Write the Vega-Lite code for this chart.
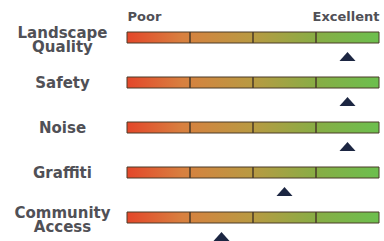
{
  "$schema": "https://vega.github.io/schema/vega-lite/v6.json",
  "autosize": "none",
  "width": 252,
  "height": 225,
  "padding": {"left": 127, "top": 15, "right": 5, "bottom": 1},
  "background": "white",
  "config": {"view": {"stroke": null}},
  "data": {"values": [
    {"cat": "Landscape|Quality", "score": 3.5},
    {"cat": "Safety", "score": 3.5},
    {"cat": "Noise", "score": 3.5},
    {"cat": "Graffiti", "score": 2.5},
    {"cat": "Community|Access", "score": 1.5}
  ]},
  "encoding": {
    "y": {
      "field": "cat", "type": "nominal", "sort": null,
      "scale": {"paddingInner": 0, "paddingOuter": 0},
      "axis": {
        "title": null, "domain": false, "ticks": false,
        "labelPadding": 65, "labelAlign": "center", "labelBaseline": "middle",
        "labelExpr": "split(datum.label, '|')",
        "labelLineHeight": 14,
        "labelOffset": {"expr": "indexof(datum.label, '|') >= 0 ? -5 : 0"},
        "labelFont": "DejaVu Sans", "labelFontSize": 15, "labelFontWeight": "bold",
        "labelColor": "#505056"
      }
    }
  },
  "layer": [
    {
      "mark": {
        "type": "bar", "height": 11, "stroke": "#4a3a28", "strokeWidth": 1,
        "fill": {"gradient": "linear", "x1": 0, "x2": 1, "y1": 0, "y2": 0, "stops": [
          {"offset": 0, "color": "#e4472a"},
          {"offset": 0.22, "color": "#d8803f"},
          {"offset": 0.5, "color": "#b89a42"},
          {"offset": 0.75, "color": "#88ad45"},
          {"offset": 1, "color": "#6cbf4e"}
        ]}
      },
      "encoding": {
        "x": {"datum": 0, "type": "quantitative",
          "scale": {"domain": [0, 4], "nice": false, "zero": false},
          "axis": {
            "orient": "top", "values": [0, 4], "title": null, "domain": false, "ticks": false, "grid": false,
            "offset": -8, "labelPadding": 0,
            "labelExpr": "datum.value == 0 ? 'Poor' : 'Excellent'",
            "labelAlign": {"expr": "datum.value == 0 ? 'left' : 'right'"},
            "labelFont": "DejaVu Sans", "labelFontSize": 13, "labelFontWeight": "bold",
            "labelColor": "#505056"
          }
        },
        "x2": {"datum": 4}
      }
    },
    {"mark": {"type": "tick", "size": 11, "thickness": 1.5, "color": "#4a3a28", "opacity": 1},
     "encoding": {"x": {"datum": 1, "type": "quantitative"}}},
    {"mark": {"type": "tick", "size": 11, "thickness": 1.5, "color": "#4a3a28", "opacity": 1},
     "encoding": {"x": {"datum": 2, "type": "quantitative"}}},
    {"mark": {"type": "tick", "size": 11, "thickness": 1.5, "color": "#4a3a28", "opacity": 1},
     "encoding": {"x": {"datum": 3, "type": "quantitative"}}},
    {
      "mark": {"type": "point", "filled": true, "opacity": 1, "color": "#1c2642",
        "shape": "M-1,0.55L0,-0.55L1,0.55Z", "size": 256, "yOffset": 19},
      "encoding": {"x": {"field": "score", "type": "quantitative"}}
    }
  ]
}
